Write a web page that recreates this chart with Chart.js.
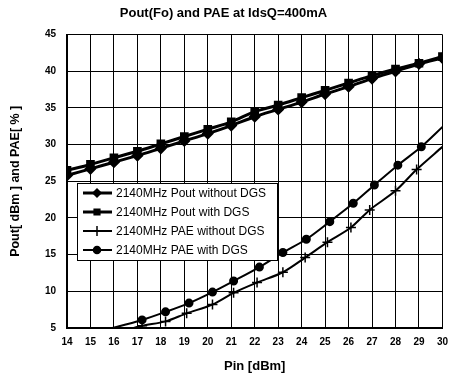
<!DOCTYPE html>
<html>
<head>
<meta charset="utf-8">
<script src="https://cdn.jsdelivr.net/npm/chart.js@4.4.1/dist/chart.umd.min.js"></script>
<style>
  html, body { margin: 0; padding: 0; background: #fff; }
  #wrap { width: 456px; height: 380px; }
</style>
</head>
<body>
<div id="wrap"><canvas id="chartPout"></canvas></div>
<script>
// values
const pinPout = [14, 15, 16, 17, 18, 19, 20, 21, 22, 23, 24, 25, 26, 27, 28, 29, 30];
const poutNoDgs = [25.8, 26.7, 27.6, 28.5, 29.5, 30.5, 31.5, 32.6, 33.8, 34.8, 35.8, 36.9, 37.9, 39.0, 40.0, 41.0, 41.8];
const poutDgs = [26.5, 27.3, 28.2, 29.1, 30.1, 31.1, 32.1, 33.1, 34.5, 35.4, 36.4, 37.4, 38.4, 39.4, 40.3, 41.1, 42.0];

const pinPaeNoDgs = [16.5, 17.2, 18.2, 19.1, 20.2, 21.1, 22.1, 23.2, 24.15, 25.1, 26.1, 26.9, 28.0, 28.9, 30];
const paeNoDgs = [4.7, 5.3, 5.9, 7.0, 8.2, 9.8, 11.2, 12.6, 14.6, 16.7, 18.7, 21.1, 23.7, 26.6, 29.7];
const pinPaeDgs = [15.6, 17.2, 18.2, 19.2, 20.2, 21.1, 22.2, 23.2, 24.2, 25.2, 26.2, 27.1, 28.1, 29.1, 30];
const paeDgs = [4.7, 6.1, 7.2, 8.4, 9.9, 11.4, 13.3, 15.3, 17.1, 19.5, 22.0, 24.5, 27.2, 29.7, 32.4];

const yTicks = [5, 10, 15, 20, 25, 30, 35, 40, 45];
const seriesNames = [
  '2140MHz Pout without DGS',
  '2140MHz Pout with DGS',
  '2140MHz PAE without DGS',
  '2140MHz PAE with DGS'
];

const FONT = '"Liberation Sans", Arial, sans-serif';

function pts(xs, ys) {
  return xs.map((x, i) => ({ x: x, y: ys[i] }));
}
// no marker on the ends of the PAE curves (they are just the curve running out)
function endless(n, r) {
  return Array.from({ length: n }, (_, i) => (i === 0 || i === n - 1) ? 0 : r);
}

// legend box sits inside the plot, drawn by hand
const insideLegend = {
  id: 'insideLegend',
  afterDatasetsDraw(chart) {
    const c = chart.ctx;
    const x0 = 77, y0 = 183, w = 200, h = 77;
    c.save();
    c.fillStyle = '#fff';
    c.fillRect(x0, y0, w, h);
    c.strokeStyle = '#000';
    c.lineWidth = 1;
    c.strokeRect(x0 + 0.5, y0 + 0.5, w, h);
    const rows = [193, 212, 231, 250];
    chart.data.datasets.forEach((ds, i) => {
      const y = rows[i];
      c.strokeStyle = '#000';
      c.fillStyle = '#000';
      c.lineWidth = ds.borderWidth;
      c.beginPath();
      c.moveTo(83, y);
      c.lineTo(112, y);
      c.stroke();
      c.lineWidth = 1.5;
      Chart.helpers.drawPoint(c, {
        pointStyle: ds.pointStyle,
        radius: ds.legendRadius,
        borderWidth: 1.5
      }, 97, y);
      c.fillStyle = '#000';
      c.font = '12px ' + FONT;
      c.textBaseline = 'middle';
      c.textAlign = 'left';
      c.fillText(seriesNames[i], 116, y + 1);
    });
    c.restore();
  }
};

new Chart(document.getElementById('chartPout'), {
  type: 'scatter',
  data: {
    datasets: [
      {
        label: seriesNames[0],
        data: pts(pinPout, poutNoDgs),
        showLine: true,
        borderColor: '#000',
        backgroundColor: '#000',
        pointBackgroundColor: '#000',
        borderWidth: 3,
        pointStyle: 'rectRot',
        pointRadius: 4,
        legendRadius: 4,
        tension: 0.3
      },
      {
        label: seriesNames[1],
        data: pts(pinPout, poutDgs),
        showLine: true,
        borderColor: '#000',
        backgroundColor: '#000',
        pointBackgroundColor: '#000',
        borderWidth: 3,
        pointStyle: 'rect',
        pointRadius: 4,
        legendRadius: 4,
        tension: 0.3
      },
      {
        label: seriesNames[2],
        data: pts(pinPaeNoDgs, paeNoDgs),
        showLine: true,
        borderColor: '#000',
        backgroundColor: '#000',
        borderWidth: 2,
        pointStyle: 'cross',
        pointRadius: endless(pinPaeNoDgs.length, 5),
        pointBorderWidth: 1.5,
        legendRadius: 5,
        tension: 0.3
      },
      {
        label: seriesNames[3],
        data: pts(pinPaeDgs, paeDgs),
        showLine: true,
        borderColor: '#000',
        backgroundColor: '#000',
        pointBackgroundColor: '#000',
        borderWidth: 2,
        pointStyle: 'circle',
        pointRadius: endless(pinPaeDgs.length, 3.5),
        legendRadius: 3.5,
        tension: 0.3
      }
    ]
  },
  options: {
    responsive: true,
    maintainAspectRatio: false,
    animation: false,
    layout: { padding: { left: 0, right: 9, top: 0, bottom: 0 } },
    plugins: {
      legend: { display: false },
      tooltip: { enabled: false },
      title: {
        display: true,
        text: 'Pout(Fo) and PAE at IdsQ=400mA',
        color: '#000',
        font: { family: FONT, size: 13, weight: 'bold' },
        padding: { top: 6, bottom: 13 }
      }
    },
    scales: {
      x: {
        type: 'linear',
        min: 14,
        max: 30,
        afterFit: s => { s.height = 52; },
        ticks: {
          stepSize: 1,
          color: '#000',
          padding: 8,
          font: { family: FONT, size: 10, weight: 'bold' }
        },
        grid: { color: '#000', lineWidth: 1, drawTicks: false },
        border: { color: '#000', width: 2 },
        title: {
          display: true,
          text: 'Pin [dBm]',
          color: '#000',
          font: { family: FONT, size: 13, weight: 'bold' },
          padding: { top: 0, bottom: 6 }
        }
      },
      y: {
        min: 5,
        max: 45,
        afterFit: s => { s.width = 67; },
        afterBuildTicks: s => { s.ticks = yTicks.map(v => ({ value: v })); },
        ticks: {
          color: '#000',
          padding: 11,
          font: { family: FONT, size: 10, weight: 'bold' }
        },
        grid: { color: '#000', lineWidth: 1, drawTicks: false },
        border: { color: '#000', width: 2 },
        title: {
          display: true,
          text: 'Pout[ dBm ] and PAE[ % ]',
          color: '#000',
          font: { family: FONT, size: 12.5, weight: 'bold' },
          padding: { top: 8, bottom: 6 }
        }
      }
    }
  },
  plugins: [insideLegend]
});
</script>
</body>
</html>
